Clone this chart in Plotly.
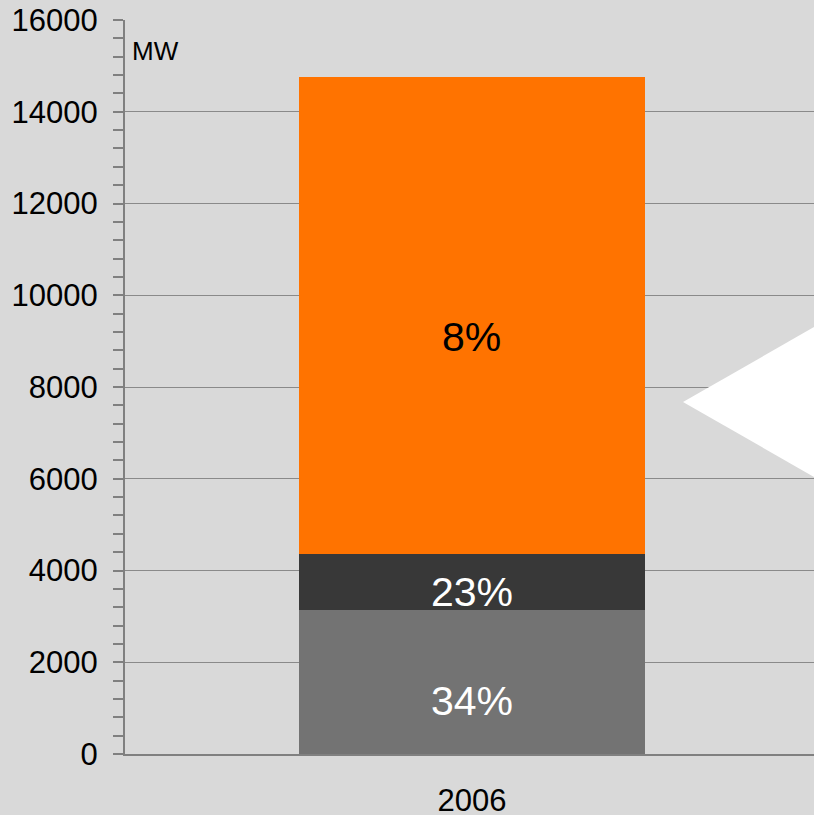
import plotly.graph_objects as go

categories = ["2006"]
series_names = ["base", "middle", "top"]
base_values = [3150]
middle_values = [1200]
top_values = [10400]
segment_labels = ["34%", "23%", "8%"]
label_colors = ["white", "white", "black"]
label_shift = [-19, -10, -21]
colors = ["#737373", "#383838", "#ff7300"]
y_ticks = [0, 2000, 4000, 6000, 8000, 10000, 12000, 14000, 16000]
unit_label = "MW"

W, H = 814, 815
L, R, T, B = 125, 0, 20, 61
pw, ph = W - L - R, H - T - B

fig = go.Figure()
for vals, c, n in zip([base_values, middle_values, top_values], colors, series_names):
    fig.add_trace(go.Bar(x=categories, y=vals, marker=dict(color=c, line=dict(width=0)),
                         width=0.502, name=n, hoverinfo="skip"))

# labels at segment midpoints
cum = 0
for vals, txt, col, sh in zip([base_values, middle_values, top_values], segment_labels, label_colors, label_shift):
    mid = cum + vals[0] / 2
    cum += vals[0]
    fig.add_annotation(xref="x", yref="y", x=0, y=mid, text=txt, showarrow=False, yshift=sh,
                       font=dict(size=41, color=col, family="Arial, Liberation Sans"))

fig.add_annotation(xref="paper", yref="paper", x=(130 - L) / pw, y=(H - B - 34) / ph,
                   xanchor="left", yanchor="top", text=unit_label, showarrow=False,
                   font=dict(size=26, color="black", family="Arial, Liberation Sans"))

def px(xp):
    return (xp - L) / pw

def py(yp):
    return (H - B - yp) / ph

fig.add_shape(type="path", xref="paper", yref="paper", layer="above",
              path=f"M {px(683)} {py(402)} L {px(814)} {py(327)} L {px(814)} {py(477)} Z",
              fillcolor="white", line=dict(width=0))

fig.update_layout(
    width=W, height=H, barmode="stack", showlegend=False,
    margin=dict(l=L, r=R, t=T, b=B, pad=0, autoexpand=False),
    paper_bgcolor="#d9d9d9", plot_bgcolor="#d9d9d9",
    font=dict(family="Arial, Liberation Sans", color="black"),
    xaxis=dict(type="category", range=[-0.5036, 0.4964], showgrid=False,
               showline=True, linecolor="#808080", linewidth=2, automargin=False,
               ticks="outside", ticklen=18, tickcolor="rgba(0,0,0,0)",
               tickfont=dict(size=31), fixedrange=True),
    yaxis=dict(range=[0, 16001], tickvals=y_ticks, ticktext=[str(v) for v in y_ticks],
               showgrid=True, gridcolor="#8a8a8a", automargin=False,
               gridwidth=1, zeroline=False, showline=True, linecolor="#808080", linewidth=2,
               ticks="outside", ticklen=10, tickwidth=2, tickcolor="#808080",
               tickfont=dict(size=31), ticklabelstandoff=9,
               minor=dict(dtick=400, ticks="outside", ticklen=10, tickwidth=2,
                          tickcolor="#808080", showgrid=False),
               fixedrange=True),
)

fig.write_html("out.html", config={"displayModeBar": False},
               post_script="document.body.style.margin='0';document.body.style.background='#d9d9d9';")
